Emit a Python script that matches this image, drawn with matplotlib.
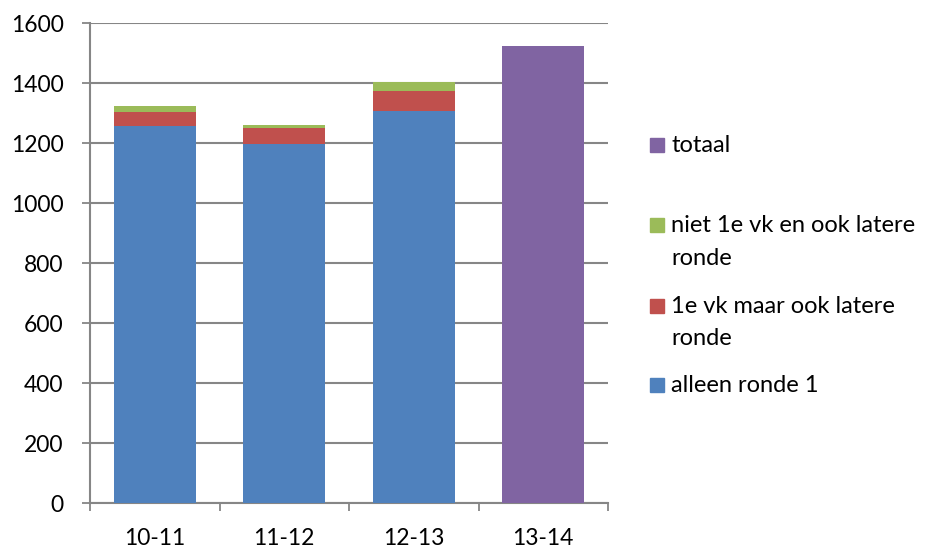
import matplotlib
matplotlib.use("Agg")
import matplotlib.pyplot as plt
from matplotlib.patches import Rectangle
import numpy as np

categories = ["10-11", "11-12", "12-13", "13-14"]
alleen_ronde_1 = [1257, 1198, 1307, 0]
eerste_vk_later = [48, 51, 66, 0]
niet_1e_vk_later = [17, 11, 32, 0]
totaal = [0, 0, 0, 1524]

labels = ["alleen ronde 1", "1e vk maar ook latere\nronde", "niet 1e vk en ook latere\nronde", "totaal"]
colors = ["#4f81bd", "#c0504d", "#9bbb59", "#8064a2"]

plt.rcParams['font.family'] = ['Lato', 'DejaVu Sans']

W, H = 927, 548
fig = plt.figure(figsize=(W/100, H/100), dpi=100)
ax = fig.add_axes([90/W, 1-503/H, (608-90)/W, (503-23)/H])

x = np.arange(len(categories))
w = 0.63
b1 = np.array(alleen_ronde_1)
b2 = b1 + np.array(eerste_vk_later)
ax.bar(x, alleen_ronde_1, w, color=colors[0], zorder=3)
ax.bar(x, eerste_vk_later, w, bottom=b1, color=colors[1], zorder=3)
ax.bar(x, niet_1e_vk_later, w, bottom=b2, color=colors[2], zorder=3)
ax.bar(x, totaal, w, color=colors[3], zorder=3)

ax.set_xlim(-0.5, 3.5)
ax.set_ylim(0, 1600)
ax.set_yticks(range(0, 1601, 200))
ax.set_xticks(x)
ax.set_xticklabels(categories)
ax.set_xticks(np.arange(-0.5, 3.6, 1), minor=True)
ax.tick_params(axis='x', which='major', length=0, pad=18, labelsize=16.5)
ax.tick_params(axis='x', which='minor', length=6, width=1.3, color='#868686', direction='out')
ax.tick_params(axis='y', length=6, width=1.3, color='#868686', direction='out', labelsize=16.5, pad=13)
ax.yaxis.grid(True, color='#868686', linewidth=1.5, zorder=0)
for s in ['top', 'right']:
    ax.spines[s].set_visible(False)
for s in ['left', 'bottom']:
    ax.spines[s].set_color('#868686')
    ax.spines[s].set_linewidth(1.5)

# legend (manual layout): (series index, baseline pixel of each line)
entries = [(3, [152]), (2, [232, 265]), (1, [313, 345]), (0, [392])]
for idx, baselines in entries:
    b0 = baselines[0]
    fig.patches.append(Rectangle((650/W, 1-(b0)/H), 14/W, 14/H, transform=fig.transFigure,
                                 color=colors[idx], figure=fig))
    for line, bl in zip(labels[idx].split("\n"), baselines):
        fig.text(671/W, 1-bl/H, line, fontsize=17, va='baseline', ha='left')

fig.savefig("out.png", dpi=100)
